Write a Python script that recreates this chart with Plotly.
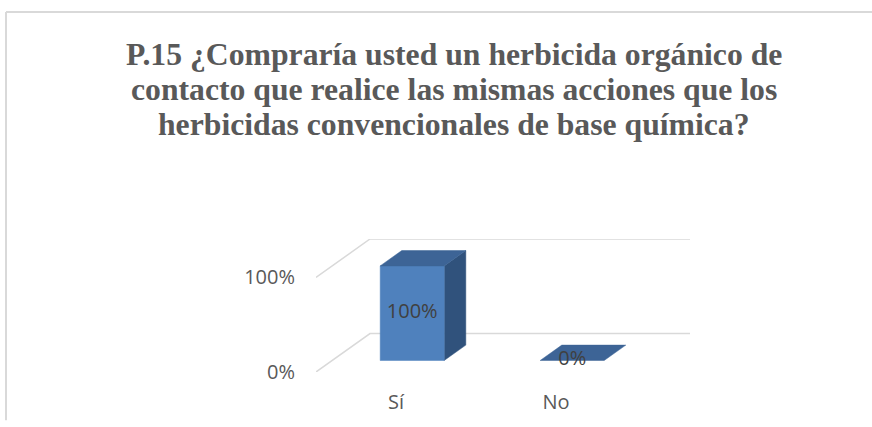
import plotly.graph_objects as go

categories = ["Sí", "No"]
values = [1.00, 0.00]
value_labels = ["100%", "0%"]
y_tickvals = [0, 1]
y_ticktext = ["0%", "100%"]

TITLE_LINES = [
    "P.15 ¿Compraría usted un herbicida orgánico de",
    "contacto que realice las mismas acciones que los",
    "herbicidas convencionales de base química?",
]

# fake 3D: how far the back wall is pushed (in axis units)
DEPTH_X = 0.3375
DEPTH_Y = 0.406
BAR_W = 0.4
Z_FRONT, Z_BACK = 0.3, 0.7

FRONT = "#4f81bd"
TOP = "#3d6496"
SIDE = "#30527c"
GRID = "#d9d9d9"
TEXT = "#595959"

W, H = 872, 427
M_L, M_R, M_T, M_B = 316, 182, 239, 50

fig = go.Figure()

x_left = -0.5
x_right = len(categories) - 0.5

# walls / gridlines
for v in y_tickvals:
    fig.add_trace(go.Scatter(
        x=[x_left, x_left + DEPTH_X, x_right + DEPTH_X],
        y=[v, v + DEPTH_Y, v + DEPTH_Y],
        mode="lines", line=dict(color=GRID, width=1.5),
        hoverinfo="skip",
    ))

dx = (Z_BACK - Z_FRONT) * DEPTH_X
dy = (Z_BACK - Z_FRONT) * DEPTH_Y

for i, val in enumerate(values):
    x0 = i - BAR_W / 2 + Z_FRONT * DEPTH_X
    x1 = x0 + BAR_W
    y0 = Z_FRONT * DEPTH_Y
    y1 = y0 + val
    if val > 0:
        # side face
        fig.add_trace(go.Scatter(
            x=[x1, x1 + dx, x1 + dx, x1, x1],
            y=[y0, y0 + dy, y1 + dy, y1, y0],
            fill="toself", fillcolor=SIDE, mode="lines",
            line=dict(color=SIDE, width=0.5), hoverinfo="skip",
        ))
        # front face
        fig.add_trace(go.Scatter(
            x=[x0, x1, x1, x0, x0],
            y=[y0, y0, y1, y1, y0],
            fill="toself", fillcolor=FRONT, mode="lines",
            line=dict(color=FRONT, width=0.5), hoverinfo="skip",
        ))
    # top face
    fig.add_trace(go.Scatter(
        x=[x0, x0 + dx, x1 + dx, x1, x0],
        y=[y1, y1 + dy, y1 + dy, y1, y1],
        fill="toself", fillcolor=TOP, mode="lines",
        line=dict(color=TOP, width=0.5), hoverinfo="skip",
    ))

# data labels on the front faces
fig.add_trace(go.Scatter(
    x=[i + Z_FRONT * DEPTH_X for i in range(len(values))],
    y=[Z_FRONT * DEPTH_Y + v / 2 for v in values],
    text=value_labels, mode="text",
    textfont=dict(family="Open Sans", size=20, color="#404040"),
    hoverinfo="skip",
))


def px_x(px):
    return (px - M_L) / (W - M_L - M_R)


def px_y(py):
    return (H - M_B - py) / (H - M_T - M_B)


# title, one annotation per line so the line spacing can be tighter
for k, line in enumerate(TITLE_LINES):
    fig.add_annotation(
        text=f"<b>{line}</b>", showarrow=False,
        xref="paper", yref="paper",
        x=px_x(454), y=px_y(48 + 36 * k),
        xanchor="center", yanchor="middle",
        font=dict(family="Liberation Serif", size=31.7, color=TEXT),
    )

# chart border (top and left edges visible)
border = dict(color=GRID, width=2)
fig.add_shape(type="line", xref="paper", yref="paper",
              x0=px_x(6), x1=px_x(W), y0=px_y(3.5), y1=px_y(3.5), line=border)
fig.add_shape(type="line", xref="paper", yref="paper",
              x0=px_x(6), x1=px_x(6), y0=px_y(3.5), y1=px_y(H), line=border)

fig.update_layout(
    width=W, height=H,
    margin=dict(l=M_L, r=M_R, t=M_T, b=M_B),
    paper_bgcolor="white", plot_bgcolor="white",
    showlegend=False,
    xaxis=dict(
        range=[x_left, x_right + DEPTH_X],
        tickvals=list(range(len(categories))), ticktext=categories,
        showgrid=False, zeroline=False, showline=False,
        ticklabelstandoff=16, fixedrange=True,
        tickfont=dict(family="Open Sans", size=20, color=TEXT),
    ),
    yaxis=dict(
        range=[0, 1 + DEPTH_Y],
        tickvals=y_tickvals, ticktext=y_ticktext,
        showgrid=False, zeroline=False, showline=False,
        ticklabelstandoff=20, fixedrange=True,
        tickfont=dict(family="Open Sans", size=20, color=TEXT),
    ),
)

# the page's default 8px body margin would shift the whole chart
fig.write_html("out.html", config={"displayModeBar": False},
               post_script="document.body.style.margin = '0';")
